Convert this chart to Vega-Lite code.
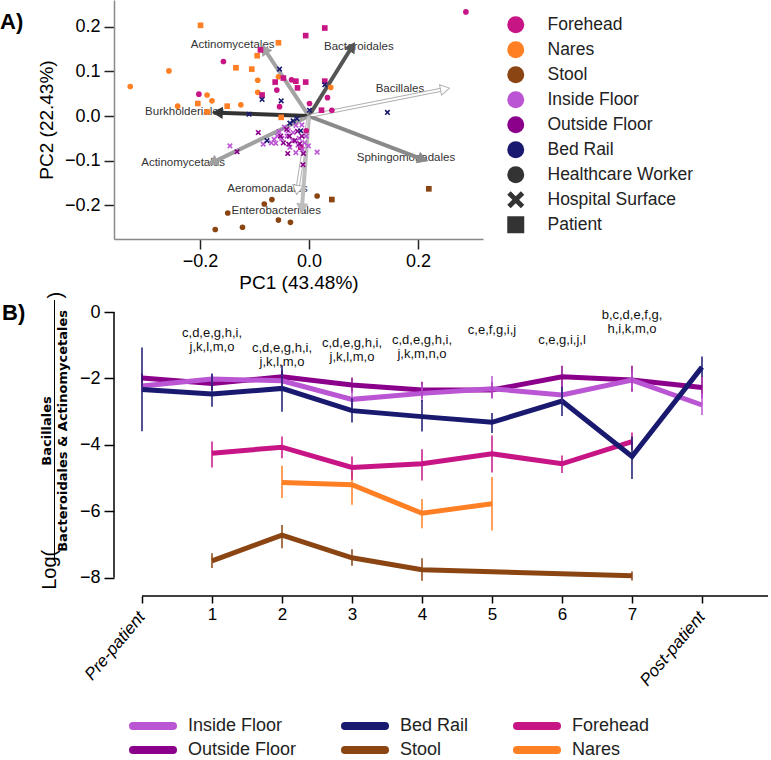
{
  "$schema": "https://vega.github.io/schema/vega-lite/v6.json",
  "padding": 0,
  "bounds": "flush",
  "spacing": 73,
  "config": {
    "font": "Liberation Sans",
    "view": {"stroke": null},
    "axis": {"grid": false, "labelColor": "#000", "titleColor": "#000", "labelFont": "Liberation Sans", "titleFont": "Liberation Sans", "titleFontWeight": "normal", "labelFlush": false}
  },
  "resolve": {"scale": {"color": "independent"}, "legend": {"color": "independent"}},
  "datasets": {
    "pts": [
      {"PC1": -0.328, "PC2": 0.066, "site": "Nares", "source": "Healthcare Worker"},
      {"PC1": -0.257, "PC2": 0.101, "site": "Nares", "source": "Healthcare Worker"},
      {"PC1": -0.241, "PC2": 0.022, "site": "Nares", "source": "Healthcare Worker"},
      {"PC1": -0.187, "PC2": 0.047, "site": "Nares", "source": "Healthcare Worker"},
      {"PC1": -0.178, "PC2": 0.034, "site": "Nares", "source": "Healthcare Worker"},
      {"PC1": -0.094, "PC2": 0.080, "site": "Nares", "source": "Healthcare Worker"},
      {"PC1": -0.094, "PC2": 0.053, "site": "Nares", "source": "Healthcare Worker"},
      {"PC1": -0.125, "PC2": 0.025, "site": "Nares", "source": "Healthcare Worker"},
      {"PC1": 0.040, "PC2": 0.064, "site": "Nares", "source": "Healthcare Worker"},
      {"PC1": -0.056, "PC2": 0.088, "site": "Nares", "source": "Healthcare Worker"},
      {"PC1": -0.199, "PC2": 0.203, "site": "Nares", "source": "Patient"},
      {"PC1": -0.056, "PC2": 0.164, "site": "Nares", "source": "Patient"},
      {"PC1": -0.095, "PC2": 0.135, "site": "Nares", "source": "Patient"},
      {"PC1": -0.134, "PC2": 0.108, "site": "Nares", "source": "Patient"},
      {"PC1": -0.105, "PC2": 0.105, "site": "Nares", "source": "Patient"},
      {"PC1": -0.204, "PC2": 0.028, "site": "Nares", "source": "Patient"},
      {"PC1": -0.187, "PC2": 0.009, "site": "Nares", "source": "Patient"},
      {"PC1": -0.150, "PC2": 0.022, "site": "Nares", "source": "Patient"},
      {"PC1": -0.051, "PC2": -0.003, "site": "Nares", "source": "Patient"},
      {"PC1": -0.157, "PC2": 0.122, "site": "Forehead", "source": "Healthcare Worker"},
      {"PC1": -0.202, "PC2": 0.049, "site": "Forehead", "source": "Healthcare Worker"},
      {"PC1": -0.059, "PC2": 0.058, "site": "Forehead", "source": "Healthcare Worker"},
      {"PC1": -0.054, "PC2": 0.021, "site": "Forehead", "source": "Healthcare Worker"},
      {"PC1": -0.032, "PC2": 0.081, "site": "Forehead", "source": "Healthcare Worker"},
      {"PC1": 0.001, "PC2": 0.028, "site": "Forehead", "source": "Healthcare Worker"},
      {"PC1": 0.034, "PC2": 0.041, "site": "Forehead", "source": "Healthcare Worker"},
      {"PC1": 0.042, "PC2": 0.013, "site": "Forehead", "source": "Healthcare Worker"},
      {"PC1": -0.005, "PC2": -0.033, "site": "Forehead", "source": "Healthcare Worker"},
      {"PC1": 0.288, "PC2": 0.233, "site": "Forehead", "source": "Healthcare Worker"},
      {"PC1": -0.089, "PC2": 0.148, "site": "Forehead", "source": "Patient"},
      {"PC1": -0.006, "PC2": 0.180, "site": "Forehead", "source": "Patient"},
      {"PC1": 0.029, "PC2": 0.197, "site": "Forehead", "source": "Patient"},
      {"PC1": -0.062, "PC2": 0.076, "site": "Forehead", "source": "Patient"},
      {"PC1": -0.047, "PC2": 0.085, "site": "Forehead", "source": "Patient"},
      {"PC1": -0.024, "PC2": 0.078, "site": "Forehead", "source": "Patient"},
      {"PC1": -0.021, "PC2": 0.063, "site": "Forehead", "source": "Patient"},
      {"PC1": -0.006, "PC2": 0.076, "site": "Forehead", "source": "Patient"},
      {"PC1": 0.029, "PC2": 0.078, "site": "Forehead", "source": "Patient"},
      {"PC1": -0.086, "PC2": 0.047, "site": "Forehead", "source": "Patient"},
      {"PC1": 0.023, "PC2": 0.013, "site": "Forehead", "source": "Patient"},
      {"PC1": -0.015, "PC2": -0.070, "site": "Forehead", "source": "Patient"},
      {"PC1": -0.145, "PC2": -0.067, "site": "Inside Floor", "source": "Hospital Surface"},
      {"PC1": -0.084, "PC2": -0.063, "site": "Inside Floor", "source": "Hospital Surface"},
      {"PC1": -0.058, "PC2": -0.045, "site": "Inside Floor", "source": "Hospital Surface"},
      {"PC1": -0.061, "PC2": -0.061, "site": "Inside Floor", "source": "Hospital Surface"},
      {"PC1": 0.015, "PC2": -0.081, "site": "Inside Floor", "source": "Hospital Surface"},
      {"PC1": -0.001, "PC2": -0.067, "site": "Inside Floor", "source": "Hospital Surface"},
      {"PC1": -0.024, "PC2": -0.082, "site": "Inside Floor", "source": "Hospital Surface"},
      {"PC1": -0.029, "PC2": -0.037, "site": "Inside Floor", "source": "Hospital Surface"},
      {"PC1": -0.013, "PC2": -0.020, "site": "Inside Floor", "source": "Hospital Surface"},
      {"PC1": -0.024, "PC2": -0.021, "site": "Inside Floor", "source": "Hospital Surface"},
      {"PC1": -0.069, "PC2": -0.060, "site": "Inside Floor", "source": "Hospital Surface"},
      {"PC1": -0.050, "PC2": -0.050, "site": "Inside Floor", "source": "Hospital Surface"},
      {"PC1": -0.040, "PC2": -0.045, "site": "Inside Floor", "source": "Hospital Surface"},
      {"PC1": -0.035, "PC2": -0.070, "site": "Inside Floor", "source": "Hospital Surface"},
      {"PC1": -0.018, "PC2": -0.050, "site": "Inside Floor", "source": "Hospital Surface"},
      {"PC1": -0.008, "PC2": -0.060, "site": "Inside Floor", "source": "Hospital Surface"},
      {"PC1": -0.045, "PC2": -0.025, "site": "Inside Floor", "source": "Hospital Surface"},
      {"PC1": -0.030, "PC2": -0.055, "site": "Inside Floor", "source": "Hospital Surface"},
      {"PC1": -0.055, "PC2": -0.035, "site": "Inside Floor", "source": "Hospital Surface"},
      {"PC1": -0.012, "PC2": -0.075, "site": "Inside Floor", "source": "Hospital Surface"},
      {"PC1": -0.038, "PC2": -0.033, "site": "Inside Floor", "source": "Hospital Surface"},
      {"PC1": -0.020, "PC2": -0.065, "site": "Inside Floor", "source": "Hospital Surface"},
      {"PC1": -0.064, "PC2": -0.052, "site": "Inside Floor", "source": "Hospital Surface"},
      {"PC1": -0.005, "PC2": -0.045, "site": "Inside Floor", "source": "Hospital Surface"},
      {"PC1": -0.093, "PC2": -0.037, "site": "Outside Floor", "source": "Hospital Surface"},
      {"PC1": -0.132, "PC2": -0.080, "site": "Outside Floor", "source": "Hospital Surface"},
      {"PC1": -0.041, "PC2": -0.030, "site": "Outside Floor", "source": "Hospital Surface"},
      {"PC1": -0.047, "PC2": -0.060, "site": "Outside Floor", "source": "Hospital Surface"},
      {"PC1": -0.037, "PC2": -0.063, "site": "Outside Floor", "source": "Hospital Surface"},
      {"PC1": -0.026, "PC2": -0.055, "site": "Outside Floor", "source": "Hospital Surface"},
      {"PC1": -0.013, "PC2": -0.045, "site": "Outside Floor", "source": "Hospital Surface"},
      {"PC1": -0.039, "PC2": -0.084, "site": "Outside Floor", "source": "Hospital Surface"},
      {"PC1": -0.010, "PC2": -0.084, "site": "Outside Floor", "source": "Hospital Surface"},
      {"PC1": -0.011, "PC2": -0.109, "site": "Outside Floor", "source": "Hospital Surface"},
      {"PC1": -0.021, "PC2": -0.034, "site": "Outside Floor", "source": "Hospital Surface"},
      {"PC1": -0.036, "PC2": -0.045, "site": "Outside Floor", "source": "Hospital Surface"},
      {"PC1": -0.052, "PC2": -0.045, "site": "Outside Floor", "source": "Hospital Surface"},
      {"PC1": -0.017, "PC2": -0.062, "site": "Outside Floor", "source": "Hospital Surface"},
      {"PC1": -0.054, "PC2": 0.105, "site": "Bed Rail", "source": "Hospital Surface"},
      {"PC1": -0.086, "PC2": 0.037, "site": "Bed Rail", "source": "Hospital Surface"},
      {"PC1": -0.051, "PC2": 0.034, "site": "Bed Rail", "source": "Hospital Surface"},
      {"PC1": -0.110, "PC2": 0.004, "site": "Bed Rail", "source": "Hospital Surface"},
      {"PC1": 0.001, "PC2": 0.013, "site": "Bed Rail", "source": "Hospital Surface"},
      {"PC1": 0.144, "PC2": 0.008, "site": "Bed Rail", "source": "Hospital Surface"},
      {"PC1": 0.029, "PC2": 0.070, "site": "Bed Rail", "source": "Hospital Surface"},
      {"PC1": -0.077, "PC2": -0.055, "site": "Bed Rail", "source": "Hospital Surface"},
      {"PC1": -0.029, "PC2": -0.011, "site": "Bed Rail", "source": "Hospital Surface"},
      {"PC1": -0.015, "PC2": -0.033, "site": "Bed Rail", "source": "Hospital Surface"},
      {"PC1": -0.035, "PC2": -0.016, "site": "Bed Rail", "source": "Hospital Surface"},
      {"PC1": -0.022, "PC2": -0.006, "site": "Bed Rail", "source": "Hospital Surface"},
      {"PC1": -0.172, "PC2": -0.254, "site": "Stool", "source": "Healthcare Worker"},
      {"PC1": -0.149, "PC2": -0.217, "site": "Stool", "source": "Healthcare Worker"},
      {"PC1": -0.122, "PC2": -0.249, "site": "Stool", "source": "Healthcare Worker"},
      {"PC1": -0.082, "PC2": -0.197, "site": "Stool", "source": "Healthcare Worker"},
      {"PC1": -0.068, "PC2": -0.187, "site": "Stool", "source": "Healthcare Worker"},
      {"PC1": -0.056, "PC2": -0.233, "site": "Stool", "source": "Healthcare Worker"},
      {"PC1": -0.034, "PC2": -0.238, "site": "Stool", "source": "Healthcare Worker"},
      {"PC1": 0.015, "PC2": -0.179, "site": "Stool", "source": "Healthcare Worker"},
      {"PC1": 0.042, "PC2": -0.187, "site": "Stool", "source": "Patient"},
      {"PC1": 0.220, "PC2": -0.163, "site": "Stool", "source": "Patient"}
    ],
    "arrows": [
      {"id": "a1", "taxon": "Actinomycetales", "PC1": -0.0815, "PC2": 0.149, "lx": -0.140, "ly": 0.159},
      {"id": "a2", "taxon": "Bacteroidales", "PC1": 0.079, "PC2": 0.155, "lx": 0.0915, "ly": 0.155},
      {"id": "a3", "taxon": "Bacillales", "PC1": 0.2497, "PC2": 0.0604, "lx": 0.167, "ly": 0.0604},
      {"id": "a4", "taxon": "Burkholderiales", "PC1": -0.1675, "PC2": 0.0075, "lx": -0.228, "ly": 0.0082},
      {"id": "a5", "taxon": "Actinomycetales", "PC1": -0.1766, "PC2": -0.1037, "lx": -0.231, "ly": -0.106},
      {"id": "a6", "taxon": "Sphingomonadales", "PC1": 0.2086, "PC2": -0.097, "lx": 0.178, "ly": -0.095},
      {"id": "a7", "taxon": "Aeromonadales", "PC1": -0.0214, "PC2": -0.1657, "lx": -0.076, "ly": -0.1634},
      {"id": "a8", "taxon": "Enterobacteriales", "PC1": -0.0129, "PC2": -0.2067, "lx": -0.060, "ly": -0.212}
    ],
    "lines": [
      {"site": "Stool", "t": 1, "mean": -7.49, "lo": -7.26, "hi": -7.71},
      {"site": "Stool", "t": 2, "mean": -6.72, "lo": -6.41, "hi": -7.11},
      {"site": "Stool", "t": 3, "mean": -7.40, "lo": -7.14, "hi": -7.64},
      {"site": "Stool", "t": 4, "mean": -7.76, "lo": -7.41, "hi": -8.09},
      {"site": "Stool", "t": 7, "mean": -7.94, "lo": -7.81, "hi": -8.08},
      {"site": "Nares", "t": 2, "mean": -5.13, "lo": -4.63, "hi": -5.60},
      {"site": "Nares", "t": 3, "mean": -5.20, "lo": -4.80, "hi": -5.80},
      {"site": "Nares", "t": 4, "mean": -6.06, "lo": -5.63, "hi": -6.51},
      {"site": "Nares", "t": 5, "mean": -5.77, "lo": -4.97, "hi": -6.58},
      {"site": "Forehead", "t": 1, "mean": -4.25, "lo": -3.90, "hi": -4.68},
      {"site": "Forehead", "t": 2, "mean": -4.07, "lo": -3.75, "hi": -4.40},
      {"site": "Forehead", "t": 3, "mean": -4.68, "lo": -4.35, "hi": -5.05},
      {"site": "Forehead", "t": 4, "mean": -4.57, "lo": -4.13, "hi": -5.07},
      {"site": "Forehead", "t": 5, "mean": -4.27, "lo": -3.72, "hi": -4.83},
      {"site": "Forehead", "t": 6, "mean": -4.57, "lo": -4.32, "hi": -4.85},
      {"site": "Forehead", "t": 7, "mean": -3.90, "lo": -3.63, "hi": -4.15},
      {"site": "Outside Floor", "t": 0, "mean": -1.99, "lo": -1.85, "hi": -2.13},
      {"site": "Outside Floor", "t": 1, "mean": -2.15, "lo": -1.95, "hi": -2.35},
      {"site": "Outside Floor", "t": 2, "mean": -1.95, "lo": -1.75, "hi": -2.15},
      {"site": "Outside Floor", "t": 3, "mean": -2.20, "lo": -1.97, "hi": -2.43},
      {"site": "Outside Floor", "t": 4, "mean": -2.35, "lo": -2.10, "hi": -2.60},
      {"site": "Outside Floor", "t": 5, "mean": -2.35, "lo": -2.10, "hi": -2.60},
      {"site": "Outside Floor", "t": 6, "mean": -1.95, "lo": -1.62, "hi": -2.28},
      {"site": "Outside Floor", "t": 7, "mean": -2.05, "lo": -1.62, "hi": -2.40},
      {"site": "Outside Floor", "t": 8, "mean": -2.27, "lo": -1.95, "hi": -2.60},
      {"site": "Inside Floor", "t": 0, "mean": -2.23, "lo": -2.08, "hi": -2.38},
      {"site": "Inside Floor", "t": 1, "mean": -2.02, "lo": -1.85, "hi": -2.20},
      {"site": "Inside Floor", "t": 2, "mean": -2.07, "lo": -1.88, "hi": -2.25},
      {"site": "Inside Floor", "t": 3, "mean": -2.63, "lo": -2.38, "hi": -2.88},
      {"site": "Inside Floor", "t": 4, "mean": -2.45, "lo": -2.20, "hi": -2.70},
      {"site": "Inside Floor", "t": 5, "mean": -2.31, "lo": -1.93, "hi": -2.60},
      {"site": "Inside Floor", "t": 6, "mean": -2.50, "lo": -2.25, "hi": -2.75},
      {"site": "Inside Floor", "t": 7, "mean": -2.05, "lo": -1.80, "hi": -2.30},
      {"site": "Inside Floor", "t": 8, "mean": -2.80, "lo": -2.45, "hi": -3.10},
      {"site": "Bed Rail", "t": 0, "mean": -2.33, "lo": -1.07, "hi": -3.59},
      {"site": "Bed Rail", "t": 1, "mean": -2.47, "lo": -1.86, "hi": -2.85},
      {"site": "Bed Rail", "t": 2, "mean": -2.30, "lo": -1.60, "hi": -3.00},
      {"site": "Bed Rail", "t": 3, "mean": -2.97, "lo": -2.60, "hi": -3.33},
      {"site": "Bed Rail", "t": 4, "mean": -3.15, "lo": -2.65, "hi": -3.60},
      {"site": "Bed Rail", "t": 5, "mean": -3.32, "lo": -3.04, "hi": -3.64},
      {"site": "Bed Rail", "t": 6, "mean": -2.68, "lo": -2.25, "hi": -3.13},
      {"site": "Bed Rail", "t": 7, "mean": -4.35, "lo": -3.75, "hi": -5.03},
      {"site": "Bed Rail", "t": 8, "mean": -1.66, "lo": -1.34, "hi": -1.96}
    ],
    "notes": [
      {"t": 1, "note": "c,d,e,g,h,i,\nj,k,l,m,o", "label_y": -0.44},
      {"t": 2, "note": "c,d,e,g,h,i,\nj,k,l,m,o", "label_y": -0.89},
      {"t": 3, "note": "c,d,e,g,h,i,\nj,k,l,m,o", "label_y": -0.75},
      {"t": 4, "note": "c,d,e,g,h,i,\nj,k,m,n,o", "label_y": -0.65},
      {"t": 5, "note": "c,e,f,g,i,j", "label_y": -0.35},
      {"t": 6, "note": "c,e,g,i,j,l", "label_y": -0.65},
      {"t": 7, "note": "b,c,d,e,f,g,\nh,i,k,m,o", "label_y": 0.08}
    ],
    "phases": [
      {"t": 0, "phase": "Pre-patient"},
      {"t": 8, "phase": "Post-patient"}
    ]
  },
  "vconcat": [
    {
      "width": 369,
      "height": 239,
      "resolve": {"scale": {"stroke": "independent", "fill": "independent"}},
      "layer": [
        {
          "data": {"name": "pts"},
          "mark": {"type": "point", "filled": true, "size": 0, "opacity": 0},
          "encoding": {
            "x": {"field": "PC1", "type": "quantitative", "scale": {"domain": [-0.3578, 0.3194], "nice": false, "zero": false},
              "axis": {"title": "PC1 (43.48%)", "values": [-0.2, 0, 0.2], "format": ".1f", "labelFontSize": 18, "titleFontSize": 19, "tickSize": 10, "tickWidth": 1.5, "tickColor": "#222", "domainColor": "#888", "domainWidth": 1.5, "labelPadding": 3, "titlePadding": 3}},
            "y": {"field": "PC2", "type": "quantitative", "scale": {"domain": [-0.2753, 0.2597], "nice": false, "zero": false},
              "axis": {"title": "PC2 (22.43%)", "values": [-0.2, -0.1, 0, 0.1, 0.2], "format": ".1f", "labelFontSize": 18, "titleFontSize": 19, "tickSize": 10, "tickWidth": 1.5, "tickColor": "#222", "domainColor": "#888", "domainWidth": 1.5, "labelPadding": 4, "titlePadding": 8}}
          }
        },
        {
          "data": {"name": "arrows"},
          "mark": {"type": "text", "fontSize": 11.5, "color": "#333", "align": "center", "baseline": "middle"},
          "encoding": {
            "x": {"field": "lx", "type": "quantitative", "scale": {"domain": [-0.3578, 0.3194], "nice": false, "zero": false}},
            "y": {"field": "ly", "type": "quantitative", "scale": {"domain": [-0.2753, 0.2597], "nice": false, "zero": false}},
            "text": {"field": "taxon", "type": "nominal"}
          }
        },
        {
          "data": {"name": "arrows"},
          "mark": {"type": "rule", "strokeWidth": 4},
          "encoding": {
            "x": {"field": "PC1", "type": "quantitative", "scale": {"domain": [-0.3578, 0.3194], "nice": false, "zero": false}},
            "y": {"field": "PC2", "type": "quantitative", "scale": {"domain": [-0.2753, 0.2597], "nice": false, "zero": false}},
            "x2": {"datum": 0},
            "y2": {"datum": 0},
            "stroke": {"field": "id", "type": "nominal", "legend": null, "scale": {"domain": ["a1","a2","a3","a4","a5","a6","a7","a8"], "range": ["#a3a3a3","#555555","#b0b0b0","#333333","#a0a0a0","#8a8a8a","#b0b0b0","#bdbdbd"]}}
          }
        },
        {
          "data": {"name": "arrows"},
          "mark": {"type": "rule", "strokeWidth": 2},
          "encoding": {
            "x": {"field": "PC1", "type": "quantitative", "scale": {"domain": [-0.3578, 0.3194], "nice": false, "zero": false}},
            "y": {"field": "PC2", "type": "quantitative", "scale": {"domain": [-0.2753, 0.2597], "nice": false, "zero": false}},
            "x2": {"datum": 0},
            "y2": {"datum": 0},
            "stroke": {"field": "id", "type": "nominal", "legend": null, "scale": {"domain": ["a1","a2","a3","a4","a5","a6","a7","a8"], "range": ["#a3a3a3","#555555","#ffffff","#333333","#a0a0a0","#8a8a8a","#ffffff","#bdbdbd"]}}
          }
        },
        {
          "data": {"name": "arrows"},
          "transform": [{"calculate": "atan2(datum.PC1 * 543.5, datum.PC2 * 446.7) * 180 / PI", "as": "ang"}],
          "mark": {"type": "point", "shape": "triangle-up", "filled": true, "size": 110, "strokeWidth": 1, "opacity": 1},
          "encoding": {
            "x": {"field": "PC1", "type": "quantitative", "scale": {"domain": [-0.3578, 0.3194], "nice": false, "zero": false}},
            "y": {"field": "PC2", "type": "quantitative", "scale": {"domain": [-0.2753, 0.2597], "nice": false, "zero": false}},
            "angle": {"field": "ang", "type": "quantitative", "scale": null},
            "fill": {"field": "id", "type": "nominal", "legend": null, "scale": {"domain": ["a1","a2","a3","a4","a5","a6","a7","a8"], "range": ["#a3a3a3","#555555","#ffffff","#333333","#a0a0a0","#8a8a8a","#ffffff","#bdbdbd"]}},
            "stroke": {"field": "id", "type": "nominal", "legend": null, "scale": {"domain": ["a1","a2","a3","a4","a5","a6","a7","a8"], "range": ["#a3a3a3","#555555","#b0b0b0","#333333","#a0a0a0","#8a8a8a","#b0b0b0","#bdbdbd"]}}
          }
        },
        {
          "data": {"name": "pts"},
          "mark": {"type": "point", "filled": true, "size": 32, "opacity": 1},
          "encoding": {
            "x": {"field": "PC1", "type": "quantitative", "scale": {"domain": [-0.3578, 0.3194], "nice": false, "zero": false}},
            "y": {"field": "PC2", "type": "quantitative", "scale": {"domain": [-0.2753, 0.2597], "nice": false, "zero": false}},
            "color": {"field": "site", "type": "nominal",
              "scale": {"domain": ["Forehead", "Nares", "Stool", "Inside Floor", "Outside Floor", "Bed Rail"], "range": ["#c71585", "#ff7f24", "#8b4513", "#ba55d3", "#8b008b", "#191970"]},
              "legend": {"orient": "none", "legendX": 393, "legendY": 16, "title": null, "symbolType": "circle", "symbolSize": 289, "symbolOpacity": 1, "symbolStrokeWidth": 0, "labelFontSize": 17.5, "labelOffset": 23, "rowPadding": 6, "padding": 0, "labelColor": "#222"}},
            "shape": {"field": "source", "type": "nominal",
              "scale": {"domain": ["Healthcare Worker", "Hospital Surface", "Patient"], "range": ["circle", "M-1,-0.6L-0.6,-1L0,-0.4L0.6,-1L1,-0.6L0.4,0L1,0.6L0.6,1L0,0.4L-0.6,1L-1,0.6L-0.4,0Z", "square"]},
              "legend": {"orient": "none", "legendX": 393, "legendY": 166, "title": null, "symbolSize": 289, "symbolOpacity": 1, "symbolFillColor": "#333", "symbolStrokeWidth": 0, "labelFontSize": 17.5, "labelOffset": 23, "rowPadding": 6, "padding": 0, "labelColor": "#222"}}
          }
        },
        {
          "data": {"values": [{"label": "A)"}]},
          "mark": {"type": "text", "fontSize": 22, "fontWeight": "bold", "align": "left", "baseline": "middle", "color": "#000"},
          "encoding": {
            "x": {"datum": -0.567, "type": "quantitative", "scale": {"domain": [-0.3578, 0.3194], "nice": false, "zero": false}},
            "y": {"datum": 0.211, "type": "quantitative", "scale": {"domain": [-0.2753, 0.2597], "nice": false, "zero": false}},
            "text": {"field": "label", "type": "nominal"}
          }
        }
      ]
    },
    {
      "width": 654,
      "height": 284,
      "layer": [
        {
          "data": {"name": "lines"},
          "mark": {"type": "line", "strokeWidth": 5},
          "encoding": {
            "x": {"field": "t", "type": "quantitative", "scale": {"domain": [-0.4, 8.943], "nice": false, "zero": false},
              "axis": {"title": null, "domain": false, "values": [0, 1, 2, 3, 4, 5, 6, 7, 8], "tickSize": 7, "tickWidth": 1.5, "tickColor": "#000", "labelFontSize": 17, "labelPadding": 3, "labelOverlap": false, "labelAngle": 0,
                "labelExpr": "datum.value >= 1 && datum.value <= 7 ? '' + datum.value : ''"}},
            "y": {"field": "mean", "type": "quantitative", "scale": {"domain": [-8.55, 0], "nice": false, "zero": false},
              "axis": {"title": null, "domain": false, "values": [0, -2, -4, -6, -8], "format": "d", "tickSize": 10, "tickWidth": 1.5, "tickColor": "#000", "labelFontSize": 18, "labelPadding": 4}},
            "color": {"field": "site", "type": "nominal",
              "scale": {"domain": ["Inside Floor", "Bed Rail", "Forehead", "Outside Floor", "Stool", "Nares"], "range": ["#ba55d3", "#191970", "#c71585", "#8b008b", "#8b4513", "#ff7f24"]},
              "legend": {"orient": "none", "legendX": 12, "legendY": 405, "title": null, "columns": 3, "direction": "horizontal", "symbolType": "M-0.5,0H9.5", "symbolStrokeWidth": 8, "symbolSize": 64, "clipHeight": 18, "labelFont": "Liberation Sans", "labelFontSize": 18, "labelOffset": 44, "columnPadding": 41, "rowPadding": 6, "padding": 0, "labelColor": "#222",
                "encode": {"symbols": {"update": {"strokeCap": {"value": "round"}}}}}}
          }
        },
        {
          "data": {"values": [{}]},
          "mark": {"type": "rule", "strokeWidth": 1.5, "color": "#000"},
          "encoding": {
            "x": {"datum": -0.4, "type": "quantitative", "scale": {"domain": [-0.4, 8.943], "nice": false, "zero": false}},
            "y": {"datum": 0, "type": "quantitative", "scale": {"domain": [-8.55, 0], "nice": false, "zero": false}},
            "y2": {"datum": -8}
          }
        },
        {
          "data": {"values": [{}]},
          "mark": {"type": "rule", "strokeWidth": 1.5, "color": "#000"},
          "encoding": {
            "x": {"datum": 0, "type": "quantitative", "scale": {"domain": [-0.4, 8.943], "nice": false, "zero": false}},
            "x2": {"datum": 8.943},
            "y": {"datum": -8.55, "type": "quantitative", "scale": {"domain": [-8.55, 0], "nice": false, "zero": false}}
          }
        },
        {
          "data": {"name": "phases"},
          "mark": {"type": "text", "fontSize": 17, "fontStyle": "italic", "angle": 310, "align": "right", "baseline": "middle", "color": "#000"},
          "encoding": {
            "x": {"field": "t", "type": "quantitative", "scale": {"domain": [-0.4, 8.943], "nice": false, "zero": false}},
            "y": {"datum": -9.1, "type": "quantitative", "scale": {"domain": [-8.55, 0], "nice": false, "zero": false}},
            "text": {"field": "phase", "type": "nominal"}
          }
        },
        {
          "data": {"name": "lines"},
          "mark": {"type": "rule", "strokeWidth": 1.5},
          "encoding": {
            "x": {"field": "t", "type": "quantitative", "scale": {"domain": [-0.4, 8.943], "nice": false, "zero": false}},
            "y": {"field": "lo", "type": "quantitative", "scale": {"domain": [-8.55, 0], "nice": false, "zero": false}},
            "y2": {"field": "hi"},
            "color": {"field": "site", "type": "nominal",
              "scale": {"domain": ["Inside Floor", "Bed Rail", "Forehead", "Outside Floor", "Stool", "Nares"], "range": ["#ba55d3", "#191970", "#c71585", "#8b008b", "#8b4513", "#ff7f24"]}}
          }
        },
        {
          "data": {"name": "notes"},
          "mark": {"type": "text", "fontSize": 13, "align": "center", "baseline": "top", "lineBreak": "\n", "lineHeight": 14, "color": "#111"},
          "encoding": {
            "x": {"field": "t", "type": "quantitative", "scale": {"domain": [-0.4, 8.943], "nice": false, "zero": false}},
            "y": {"field": "label_y", "type": "quantitative", "scale": {"domain": [-8.55, 0], "nice": false, "zero": false}},
            "text": {"field": "note", "type": "nominal"}
          }
        },
        {
          "data": {"values": [{"label": "Log("}]},
          "mark": {"type": "text", "fontSize": 20, "angle": 270, "align": "center", "baseline": "middle", "color": "#000"},
          "encoding": {
            "x": {"datum": -1.314, "type": "quantitative", "scale": {"domain": [-0.4, 8.943], "nice": false, "zero": false}},
            "y": {"datum": -7.76, "type": "quantitative", "scale": {"domain": [-8.55, 0], "nice": false, "zero": false}},
            "text": {"field": "label", "type": "nominal"}
          }
        },
        {
          "data": {"values": [{"label": ")"}]},
          "mark": {"type": "text", "fontSize": 20, "angle": 270, "align": "center", "baseline": "middle", "color": "#000"},
          "encoding": {
            "x": {"datum": -1.229, "type": "quantitative", "scale": {"domain": [-0.4, 8.943], "nice": false, "zero": false}},
            "y": {"datum": 0.51, "type": "quantitative", "scale": {"domain": [-8.55, 0], "nice": false, "zero": false}},
            "text": {"field": "label", "type": "nominal"}
          }
        },
        {
          "data": {"values": [{"label": "Bacillales"}]},
          "mark": {"type": "text", "font": "DejaVu Sans", "fontWeight": "bold", "fontSize": 13, "angle": 270, "align": "center", "baseline": "middle", "color": "#000"},
          "encoding": {
            "x": {"datum": -1.364, "type": "quantitative", "scale": {"domain": [-0.4, 8.943], "nice": false, "zero": false}},
            "y": {"datum": -3.58, "type": "quantitative", "scale": {"domain": [-8.55, 0], "nice": false, "zero": false}},
            "text": {"field": "label", "type": "nominal"}
          }
        },
        {
          "data": {"values": [{"label": "Bacteroidales & Actinomycetales"}]},
          "mark": {"type": "text", "font": "DejaVu Sans", "fontWeight": "bold", "fontSize": 13, "angle": 270, "align": "center", "baseline": "middle", "color": "#000"},
          "encoding": {
            "x": {"datum": -1.129, "type": "quantitative", "scale": {"domain": [-0.4, 8.943], "nice": false, "zero": false}},
            "y": {"datum": -3.58, "type": "quantitative", "scale": {"domain": [-8.55, 0], "nice": false, "zero": false}},
            "text": {"field": "label", "type": "nominal"}
          }
        },
        {
          "data": {"values": [{}]},
          "mark": {"type": "rule", "strokeWidth": 1, "color": "#000"},
          "encoding": {
            "x": {"datum": -1.25, "type": "quantitative", "scale": {"domain": [-0.4, 8.943], "nice": false, "zero": false}},
            "y": {"datum": 0.36, "type": "quantitative", "scale": {"domain": [-8.55, 0], "nice": false, "zero": false}},
            "y2": {"datum": -7.52}
          }
        },
        {
          "data": {"values": [{"label": "B)"}]},
          "mark": {"type": "text", "fontSize": 22, "fontWeight": "bold", "align": "left", "baseline": "middle", "color": "#000"},
          "encoding": {
            "x": {"datum": -2.0, "type": "quantitative", "scale": {"domain": [-0.4, 8.943], "nice": false, "zero": false}},
            "y": {"datum": -0.03, "type": "quantitative", "scale": {"domain": [-8.55, 0], "nice": false, "zero": false}},
            "text": {"field": "label", "type": "nominal"}
          }
        }
      ]
    }
  ]
}
